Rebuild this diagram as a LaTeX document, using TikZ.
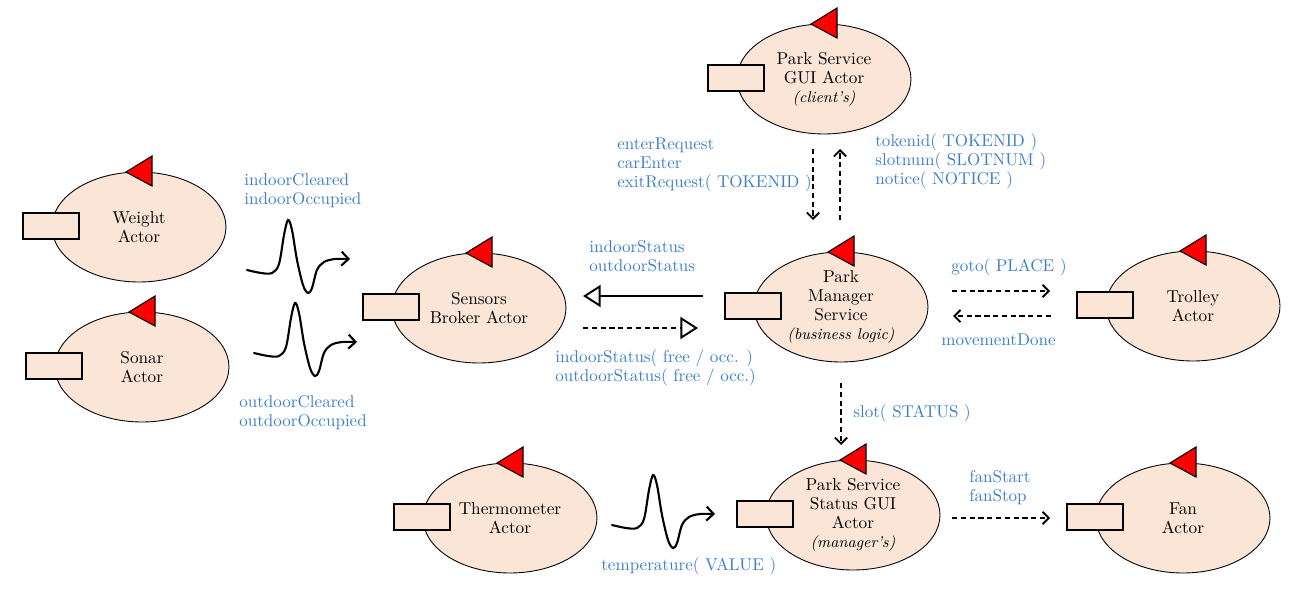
\documentclass[tikz,border=0pt]{standalone}
\usetikzlibrary{shapes.geometric}
\usetikzlibrary{arrows.meta}

\definecolor{actorfill}{RGB}{250,229,214}
\definecolor{msgblue}{RGB}{61,126,201}

\tikzset{
  actor/.style={ellipse,draw,line width=0.5pt,fill=actorfill,minimum width=3.48cm,
    minimum height=2.2cm,inner sep=0pt,align=center,font=\fontsize{9.8}{10.8}\selectfont},
  msg/.style={anchor=west,align=left,inner sep=0pt,text=msgblue,font=\fontsize{9.7}{10.8}\selectfont},
  dispatch/.style={line width=1.1pt,dash pattern=on 3pt off 2pt,-{Straight Barb[length=3.5pt,width=7pt]}},
  signal/.style={line width=1.2pt,line cap=round,-{Straight Barb[length=4pt,width=8pt]}},
  update/.style={line width=1.1pt,-{Triangle[open,length=10pt,width=12.5pt]}}
}

% box and red flag of an actor
\newcommand\actorparts[1]{%
  \draw[line width=0.8pt,fill=actorfill] ([shift={(-116,-14)}]#1.center) rectangle ++(56,26);
  \draw[line width=0.6pt,fill=red] ([shift={(-13,-55)}]#1.center) -- ++(26,-16) -- ++(0,30) -- cycle;}
% wavy stream arrow starting at a coordinate
\newcommand\sigwave[1]{%
  \begin{scope}[shift={(#1)}]
    \draw[signal] plot[smooth,tension=0.55] coordinates {(0,0) (14,3) (25,3) (32,-6) (37,-35)
      (41,-50) (45,-40) (50,-10) (56,15) (61,23) (65,18) (70,0) (77,-8) (88,-11) (103,-11)};
  \end{scope}}
\newcommand\subline{\fontsize{8.9}{10.8}\selectfont\itshape}

\begin{document}
\begin{tikzpicture}[x=0.02cm,y=-0.02cm]
  \useasboundingbox (0,0) rectangle (1301,595);

  % actors
  \node[actor] (weight) at (139,227) {Weight\\Actor};
  \node[actor] (sonar) at (142,367) {Sonar\\Actor};
  \node[actor] (broker) at (479,308) {Sensors\\Broker Actor};
  \node[actor] (gui) at (824,79) {Park Service\\GUI Actor\\{\subline (client's)}};
  \node[actor] (manager) at (841,307) {Park\\Manager\\Service\\{\subline (business logic)}};
  \node[actor] (trolley) at (1193,306) {Trolley\\Actor};
  \node[actor] (thermo) at (510,518) {Thermometer\\Actor};
  \node[actor] (status) at (853,515) {Park Service\\Status GUI\\Actor\\{\subline (manager's)}};
  \node[actor] (fan) at (1183,518) {Fan\\Actor};
  \foreach \a in {weight,sonar,broker,gui,manager,trolley,thermo,status,fan} { \actorparts{\a} }

  % connector ends
  \coordinate (w1) at (247,270);
  \coordinate (w2) at (254,353);
  \coordinate (w3) at (612,525);
  \coordinate (req1) at (813,149);  \coordinate (req2) at (813,220);
  \coordinate (ans1) at (840,220);  \coordinate (ans2) at (840,149);
  \coordinate (upd1) at (703,296);  \coordinate (upd2) at (583,296);
  \coordinate (obs1) at (583,328);  \coordinate (obs2) at (698,328);
  \coordinate (go1) at (952,291);   \coordinate (go2) at (1050,291);
  \coordinate (done1) at (1051,316); \coordinate (done2) at (953,316);
  \coordinate (slot1) at (841,383); \coordinate (slot2) at (841,445);
  \coordinate (fan1) at (952,518);  \coordinate (fan2) at (1050,518);

  % connectors
  \sigwave{w1}
  \sigwave{w2}
  \sigwave{w3}
  \draw[dispatch] (req1) -- (req2);
  \draw[dispatch] (ans1) -- (ans2);
  \draw[update] (upd1) -- (upd2);
  \draw[update,dash pattern=on 3pt off 2pt] (obs1) -- (obs2);
  \draw[dispatch] (go1) -- (go2);
  \draw[dispatch] (done1) -- (done2);
  \draw[dispatch] (slot1) -- (slot2);
  \draw[dispatch] (fan1) -- (fan2);

  % messages
  \node[msg] (inmsg) at (244,190.5) {indoorCleared\\indoorOccupied};
  \node[msg] (outmsg) at (239,413) {outdoorCleared\\outdoorOccupied};
  \node[msg] (stmsg) at (589,256) {indoorStatus\\outdoorStatus};
  \node[msg] (freemsg) at (555,367.5) {indoorStatus( free / occ. )\\outdoorStatus( free / occ.)};
  \node[msg] (reqmsg) at (617,165) {enterRequest\\carEnter\\exitRequest( TOKENID )};
  \node[msg] (ansmsg) at (875,161.5) {tokenid( TOKENID )\\slotnum( SLOTNUM )\\notice( NOTICE )};
  \node[msg] (gomsg) at (951,267) {goto( PLACE )};
  \node[msg] (donemsg) at (941,340) {movementDone};
  \node[msg] (slotmsg) at (853,413) {slot( STATUS )};
  \node[msg] (fanmsg) at (969,488) {fanStart\\fanStop};
  \node[msg] (tempmsg) at (601,566) {temperature( VALUE )};
\end{tikzpicture}
\end{document}
